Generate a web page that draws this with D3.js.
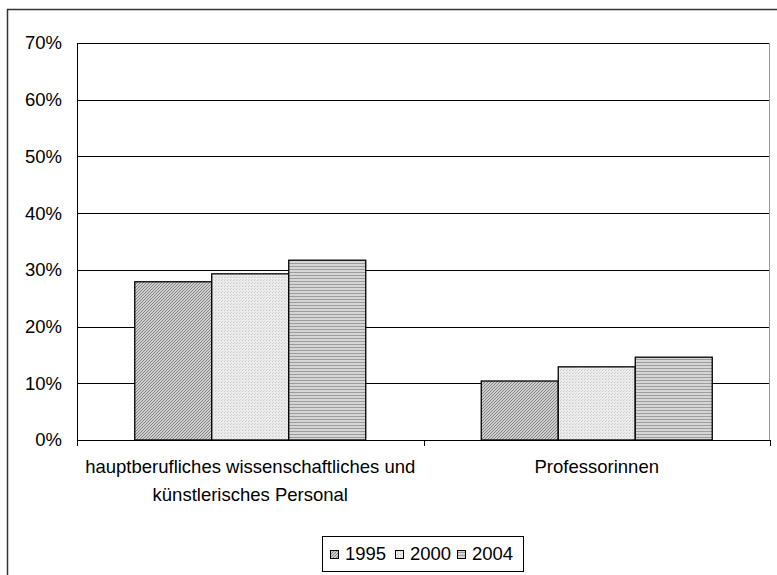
<!DOCTYPE html>
<html>
<head>
<meta charset="utf-8">
<script src="https://cdn.jsdelivr.net/npm/d3@7"></script>
<style>
  body { margin: 0; background: #fff; }
  svg { display: block; font-family: Arial, "Liberation Sans", sans-serif; }
</style>
</head>
<body>
<div id="chart"></div>
<script>
// data
var categories = [["hauptberufliches wissenschaftliches und", "künstlerisches Personal"], ["Professorinnen"]];
var years = ["1995", "2000", "2004"];
var values1995 = [27.9, 10.4];
var values2000 = [29.3, 12.9];
var values2004 = [31.7, 14.6];
var yTicks = [0, 10, 20, 30, 40, 50, 60, 70];

var series = [values1995, values2000, values2004];

var width_all = 777, height_all = 575;
var margin = { top: 43, right: 7, bottom: 135, left: 77 },
    width = width_all - margin.left - margin.right,
    height = height_all - margin.top - margin.bottom;
var fontSize = "18.5px";

var svg = d3.select("#chart")
    .append("svg")
    .attr("width", width_all)
    .attr("height", height_all);

// patterns for the bars
var defs = svg.append("defs");

var p1 = defs.append("pattern").attr("id", "pat0").attr("patternUnits", "userSpaceOnUse")
    .attr("width", 3).attr("height", 3);
p1.append("rect").attr("width", 3).attr("height", 3).attr("fill", "#cfcfcf");
p1.append("path").attr("d", "M0,3 L3,0 M-1,1 L1,-1 M2,4 L4,2").attr("stroke", "#7a7a7a").attr("stroke-width", 0.9);

var p2 = defs.append("pattern").attr("id", "pat1").attr("patternUnits", "userSpaceOnUse")
    .attr("width", 3).attr("height", 3);
p2.append("rect").attr("width", 3).attr("height", 3).attr("fill", "#ececec");
p2.append("rect").attr("width", 1).attr("height", 1).attr("fill", "#c8c8c8");
p2.append("rect").attr("x", 1).attr("y", 2).attr("width", 1).attr("height", 1).attr("fill", "#d4d4d4");

var p3 = defs.append("pattern").attr("id", "pat2").attr("patternUnits", "userSpaceOnUse")
    .attr("width", 4).attr("height", 3);
p3.append("rect").attr("width", 4).attr("height", 3).attr("fill", "#d6d6d6");
p3.append("rect").attr("y", 1).attr("width", 4).attr("height", 1).attr("fill", "#9c9c9c");

// outer frame
svg.append("rect")
    .attr("x", 7.5).attr("y", 9.5)
    .attr("width", 780).attr("height", 580)
    .attr("fill", "none").attr("stroke", "#333").attr("stroke-width", 1.5);

var g = svg.append("g")
    .attr("transform", "translate(" + margin.left + "," + margin.top + ")");

// scales
var x0 = d3.scaleBand().domain(d3.range(categories.length)).range([0, width]).paddingInner(0).paddingOuter(0);
var x1 = d3.scaleBand().domain(years).range([0, x0.bandwidth()]).paddingInner(0).paddingOuter(0.75);
var y = d3.scaleLinear().domain([0, 70]).range([height, 0]);

// gridlines
g.append("g").selectAll("line")
    .data(yTicks.slice(1))
    .enter().append("line")
    .attr("x1", 0).attr("x2", width)
    .attr("y1", function(d) { return Math.round(y(d)) + 0.5; })
    .attr("y2", function(d) { return Math.round(y(d)) + 0.5; })
    .attr("stroke", "#000").attr("stroke-width", 1);

// right edge of plot area
g.append("line")
    .attr("x1", width - 0.5).attr("x2", width - 0.5)
    .attr("y1", 0).attr("y2", height)
    .attr("stroke", "#999").attr("stroke-width", 1);

// bars
series.forEach(function(vals, si) {
    g.append("g").selectAll("rect")
        .data(vals)
        .enter().append("rect")
        .attr("x", function(d, i) { return x0(i) + x1(years[si]); })
        .attr("y", function(d) { return y(d); })
        .attr("width", x1.bandwidth())
        .attr("height", function(d) { return height - y(d); })
        .attr("fill", "url(#pat" + si + ")")
        .attr("stroke", "#000").attr("stroke-width", 1.3);
});

// y axis
var yAxis = g.append("g")
    .call(d3.axisLeft(y).tickValues(yTicks).tickSize(5).tickFormat(function(d) { return d + "%"; }));
yAxis.attr("font-size", null).attr("font-family", null);
yAxis.select(".domain").attr("d", "M0.5,0V" + height);
yAxis.selectAll("line").attr("x1", -5).attr("stroke", "#000");
yAxis.selectAll("text").attr("x", -15).style("font-size", fontSize).attr("fill", "#000");

// x axis
var xAxis = g.append("g")
    .attr("transform", "translate(0," + height + ")");
xAxis.append("line").attr("x1", 0).attr("x2", width).attr("y1", 0.5).attr("y2", 0.5).attr("stroke", "#000");
xAxis.selectAll(".tk")
    .data(d3.range(categories.length + 1))
    .enter().append("line")
    .attr("x1", function(d) { return Math.round(d * x0.bandwidth()) + 0.5; })
    .attr("x2", function(d) { return Math.round(d * x0.bandwidth()) + 0.5; })
    .attr("y1", 0).attr("y2", 6)
    .attr("stroke", "#000");

categories.forEach(function(lines, i) {
    var t = xAxis.append("text")
        .attr("text-anchor", "middle")
        .style("font-size", fontSize)
        .attr("fill", "#000")
        .attr("x", x0(i) + x0.bandwidth() / 2)
        .attr("y", 33);
    lines.forEach(function(l, li) {
        t.append("tspan").attr("x", x0(i) + x0.bandwidth() / 2).attr("dy", li == 0 ? 0 : 28).text(l);
    });
});

// legend
var legend = svg.append("g").attr("transform", "translate(322,536)");
legend.append("rect").attr("x", 0.5).attr("y", 0.5).attr("width", 201).attr("height", 35)
    .attr("fill", "#fff").attr("stroke", "#000");
var legX = [8, 73, 135];
years.forEach(function(yr, i) {
    legend.append("rect")
        .attr("x", legX[i] + 0.5).attr("y", 14.5).attr("width", 8).attr("height", 8)
        .attr("fill", "url(#pat" + i + ")").attr("stroke", "#000");
    legend.append("text")
        .attr("x", legX[i] + 15).attr("y", 24)
        .style("font-size", fontSize).attr("fill", "#000")
        .text(yr);
});
</script>
</body>
</html>
